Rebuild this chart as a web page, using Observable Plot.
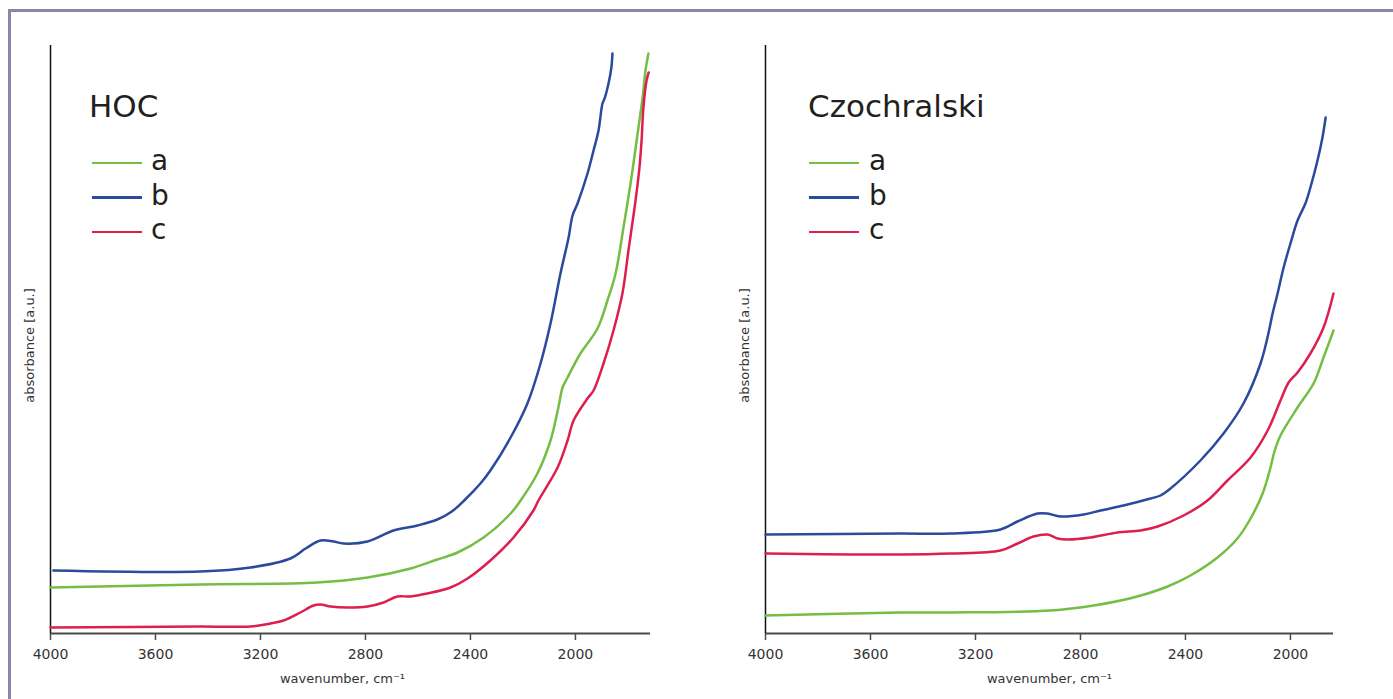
<!DOCTYPE html>
<html>
<head>
<meta charset="utf-8">
<script src="https://cdn.jsdelivr.net/npm/d3@7"></script>
<script src="https://cdn.jsdelivr.net/npm/@observablehq/plot@0.6"></script>
<style>
  html, body { margin: 0; padding: 0; background: #fff; overflow: hidden; }
  body { width: 1393px; height: 699px; position: relative; font-family: "DejaVu Sans", sans-serif; }
  .frame { position: absolute; left: 8px; top: 9px; width: 1500px; height: 800px; border: 3px solid #8b86a9; box-sizing: border-box; }
  .panel { position: absolute; top: 0; }
  .title { position: absolute; font-size: 31px; line-height: 31px; color: #231f20; white-space: nowrap; }
  .sw { position: absolute; width: 50px; height: 2.5px; }
  .lab { position: absolute; font-size: 28px; line-height: 28px; color: #231f20; }
</style>
</head>
<body>
<div class="frame"></div>
<div id="root"></div>
<script>
// ---------- data ----------
const wnTicks = [4000, 3600, 3200, 2800, 2400, 2000];
const seriesNames = ["a", "b", "c"];
const seriesColors = ["#76bd43", "#2a4a9c", "#dc1f4f"];
const panelTitles = ["HOC", "Czochralski"];
const xLabel = "wavenumber, cm⁻¹";
const yLabel = "absorbance [a.u.]";

// HOC
const hocA_wn  = [4000,3429,2983,2792,2628,2526,2449,2350,2247,2209,2145,2095,2065,2049,2030,1981,1916,1878,1847,1817,1790,1763,1744,1733,1722];
const hocA_abs = [0.46,0.49,0.51,0.56,0.65,0.74,0.81,0.96,1.20,1.33,1.60,1.93,2.26,2.46,2.56,2.80,3.05,3.33,3.60,4.06,4.50,5.00,5.36,5.63,5.80];
const hocB_wn  = [3989,3429,3238,3086,3028,2971,2922,2884,2792,2693,2602,2526,2471,2420,2362,2324,2247,2183,2133,2095,2057,2026,2011,1992,1954,1931,1912,1897,1889,1874,1863,1859];
const hocB_abs = [0.63,0.62,0.66,0.75,0.85,0.93,0.92,0.90,0.92,1.03,1.08,1.14,1.22,1.34,1.50,1.63,1.96,2.30,2.70,3.10,3.60,3.96,4.18,4.30,4.60,4.83,5.03,5.30,5.35,5.50,5.66,5.80];
const hocC_wn  = [4000,3429,3238,3162,3112,3048,2998,2971,2933,2868,2792,2731,2678,2628,2564,2476,2411,2324,2236,2160,2141,2068,2030,2007,1954,1931,1893,1855,1821,1798,1771,1756,1748,1741,1729,1721];
const hocC_abs = [0.06,0.07,0.07,0.10,0.13,0.21,0.28,0.29,0.27,0.26,0.27,0.31,0.37,0.37,0.40,0.46,0.55,0.73,0.96,1.23,1.33,1.66,1.93,2.13,2.35,2.43,2.70,3.03,3.40,3.83,4.33,4.66,4.93,5.26,5.53,5.61];

// Czochralski
const czA_wn  = [4000,3486,3295,2914,2750,2598,2468,2381,2278,2202,2152,2106,2076,2061,2038,1973,1912,1874,1836];
const czA_abs = [0.18,0.21,0.21,0.23,0.28,0.36,0.47,0.58,0.76,0.95,1.15,1.40,1.66,1.82,1.98,2.26,2.50,2.76,3.03];
const czB_wn  = [4000,3486,3295,3105,3040,2964,2926,2876,2788,2724,2636,2533,2495,2457,2343,2255,2179,2114,2084,2068,2049,2026,2000,1973,1943,1924,1897,1878,1866];
const czB_abs = [0.99,1.00,1.00,1.04,1.12,1.20,1.20,1.17,1.19,1.23,1.28,1.35,1.38,1.45,1.73,2.00,2.30,2.70,3.00,3.20,3.40,3.66,3.90,4.13,4.30,4.46,4.73,4.96,5.16];
const czC_wn  = [4000,3486,3295,3105,3040,2979,2926,2887,2849,2762,2659,2571,2506,2407,2316,2240,2152,2087,2038,2007,1973,1924,1874,1836];
const czC_abs = [0.80,0.79,0.80,0.83,0.90,0.97,0.99,0.95,0.94,0.96,1.01,1.03,1.07,1.18,1.33,1.53,1.76,2.03,2.33,2.51,2.61,2.80,3.06,3.40];

const xEnds = [1714, 1836];
const yTop = 5.88;

// ---------- build ----------
function rowsOf(pairs) {
  const rows = [];
  pairs.forEach(([wn, ab], i) => {
    wn.forEach((w, j) => rows.push({series: seriesNames[i], wn: w, abs: ab[j]}));
  });
  return rows;
}
const panels = [
  {rows: rowsOf([[hocA_wn, hocA_abs], [hocB_wn, hocB_abs], [hocC_wn, hocC_abs]]), left: 0, width: 700, mr: 50, xdx: -8},
  {rows: rowsOf([[czA_wn, czA_abs], [czB_wn, czB_abs], [czC_wn, czC_abs]]), left: 715, width: 678, mr: 60, xdx: 0}
];
const layout = [
  {titleX: 89, swX: 92, labX: 151},
  {titleX: 808, swX: 809, labX: 869}
];

const root = document.getElementById("root");
panels.forEach((p, k) => {
  const div = document.createElement("div");
  div.className = "panel";
  div.style.left = p.left + "px";
  const chart = Plot.plot({
    width: p.width,
    height: 699,
    marginLeft: 50,
    marginRight: p.mr,
    marginTop: 45,
    marginBottom: 66,
    style: {fontFamily: "DejaVu Sans, sans-serif", fontSize: "14px", color: "#333", background: "transparent", overflow: "visible"},
    x: {domain: [4000, xEnds[k]]},
    y: {domain: [0, yTop], axis: null},
    color: {domain: seriesNames, range: seriesColors},
    marks: [
      Plot.axisX({ticks: wnTicks, tickFormat: d => String(d), tickSize: 7, tickPadding: 9, stroke: "#4a4a4a", strokeWidth: 1.5, fill: "#333", label: null}),
      Plot.ruleY([0], {stroke: "#4a4a4a", strokeWidth: 2}),
      Plot.ruleX([4000], {stroke: "#111", strokeWidth: 1.5}),
      Plot.line(p.rows, {x: "wn", y: "abs", z: "series", stroke: "series", strokeWidth: 2.5, curve: "catmull-rom"}),
      Plot.text([yLabel], {frameAnchor: "left", textAnchor: "middle", rotate: -90, dx: -21, dy: 6, fontSize: 13, fill: "#333"}),
      Plot.text([xLabel], {frameAnchor: "bottom", dx: p.xdx, dy: 49, lineAnchor: "bottom", fontSize: 13, fill: "#333"})
    ]
  });
  div.appendChild(chart);
  root.appendChild(div);

  const L = layout[k];
  const t = document.createElement("div");
  t.className = "title";
  t.textContent = panelTitles[k];
  t.style.left = L.titleX + "px";
  t.style.top = "91px";
  document.body.appendChild(t);
  seriesNames.forEach((s, i) => {
    const cy = 163 + i * 34.5;
    const sw = document.createElement("div");
    sw.className = "sw";
    sw.style.left = L.swX + "px";
    sw.style.top = (cy - 1.25) + "px";
    sw.style.background = seriesColors[i];
    document.body.appendChild(sw);
    const lb = document.createElement("div");
    lb.className = "lab";
    lb.textContent = s;
    lb.style.left = L.labX + "px";
    lb.style.top = (147 + i * 34.5) + "px";
    document.body.appendChild(lb);
  });
});
</script>
</body>
</html>
